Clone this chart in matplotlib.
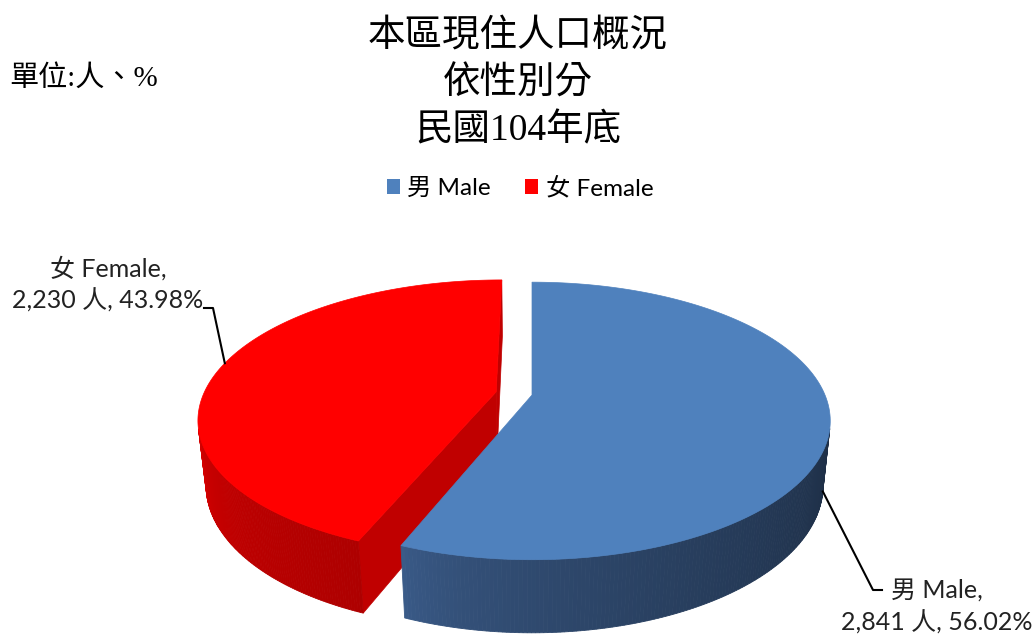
import numpy as np
import matplotlib
matplotlib.use('Agg')
import matplotlib.pyplot as plt
from matplotlib.patches import Polygon, Patch
from matplotlib.colors import to_rgb

plt.rcParams['font.family'] = ['Lato', 'Noto Sans CJK TC', 'DejaVu Sans']

# data
title_lines = ['本區現住人口概況', '依性別分', '民國104年底']
unit_text = '單位:人、%'
names_zh = ['男', '女']
names_en = ['Male', 'Female']
counts = [2841, 2230]
unit_word = '人'

# styles
top_colors = ['#4F81BD', '#FF0000']
wall_light = ['#3B5C8A', '#D60000']
wall_dark = ['#1E2F47', '#AE0000']
cut_colors = ['#243A5C', '#C00000']
explode = [0.0, 0.125]

# 3d view in pixel space
CX, CY = 532, 395
SCALE = 293
DIST = 4.76
PHI = np.radians(27.2)
HEIGHT = 0.25
CAM = np.array([0.0, DIST * np.sin(PHI), DIST * np.cos(PHI)])


def proj(X, Y, Z):
    depth = DIST - Y * np.sin(PHI) - Z * np.cos(PHI)
    f = SCALE * DIST
    xs = X * f / depth
    ys = (Y * np.cos(PHI) - Z * np.sin(PHI)) * f / depth
    return CX + xs, CY - ys


def mix(c1, c2, k):
    a, b = np.array(to_rgb(c1)), np.array(to_rgb(c2))
    return tuple(a + (b - a) * k)


fig = plt.figure(figsize=(10.36, 6.37), dpi=100)
ax = fig.add_axes([0, 0, 1, 1])
ax.set_xlim(0, 1036)
ax.set_ylim(637, 0)
ax.axis('off')

total = sum(counts)
fracs = [c / total for c in counts]
starts = np.concatenate([[0], np.cumsum(fracs)[:-1]]) * 360
ends = np.cumsum(fracs) * 360

slices = []
for i in range(len(counts)):
    t0, t1 = np.radians(starts[i]), np.radians(ends[i])
    mid = (t0 + t1) / 2
    ox, oz = explode[i] * np.sin(mid), -explode[i] * np.cos(mid)
    slices.append((t0, t1, ox, oz))


def pt(i, t, r=1.0, Y=0.0):
    t0, t1, ox, oz = slices[i]
    return proj(ox + r * np.sin(t), Y, oz - r * np.cos(t))


def draw_slice(i):
    t0, t1, ox, oz = slices[i]
    # flat cut faces
    for t, sgn in [(t0, -1), (t1, 1)]:
        n = sgn * np.array([np.cos(t), 0, np.sin(t)])
        p = np.array([ox, 0, oz])
        if n @ (CAM - p) > 1e-6:
            quad = [pt(i, t, 0), pt(i, t, 1), pt(i, t, 1, -HEIGHT), pt(i, t, 0, -HEIGHT)]
            ax.add_patch(Polygon(quad, closed=True, fc=cut_colors[i], ec=cut_colors[i], lw=0.5))
    # outer wall
    ts = np.linspace(t0, t1, 300)
    vis = []
    for t in ts:
        n = np.array([np.sin(t), 0, -np.cos(t)])
        p = np.array([ox + np.sin(t), 0, oz - np.cos(t)])
        vis.append(n @ (CAM - p) > 0)
    ts_v = ts[np.array(vis)]
    if len(ts_v) > 1:
        lo, hi = ts_v.min(), ts_v.max()
        for a, b in zip(ts_v[:-1], ts_v[1:]):
            k = ((hi - (a + b) / 2) / (hi - lo)) ** 0.6
            col = mix(wall_light[i], wall_dark[i], k)
            quad = [pt(i, a), pt(i, b), pt(i, b, 1, -HEIGHT), pt(i, a, 1, -HEIGHT)]
            ax.add_patch(Polygon(quad, closed=True, fc=col, ec=col, lw=0.6))
    # top face
    arc = [pt(i, t) for t in np.linspace(t0, t1, 200)]
    ax.add_patch(Polygon([pt(i, t0, 0)] + arc, closed=True, fc=top_colors[i],
                         ec=top_colors[i], lw=0.5))


for i in [1, 0]:
    draw_slice(i)

# titles
for line, y in zip(title_lines, [36, 84, 131]):
    ax.text(518, y, line, ha='center', va='center', fontsize=27,
            family=['Liberation Serif', 'Noto Sans CJK TC'])
ax.text(9, 78, unit_text, ha='left', va='center', fontsize=21,
        family=['Liberation Serif', 'Noto Sans CJK TC'])

# legend
handles = [Patch(facecolor=top_colors[i], label=f'{names_zh[i]} {names_en[i]}')
           for i in range(len(counts))]
ax.legend(handles=handles, loc='center', bbox_to_anchor=(520 / 1036, 1 - 188 / 637),
          ncol=2, frameon=False, fontsize=17.5, handlelength=0.55, handleheight=0.55,
          handletextpad=0.3, columnspacing=1.4)

# data labels with leader lines
label_pos = [(937, 607), (108, 284)]
anchor_t = [np.radians(104), np.radians(283)]
anchor_y = [-0.95 * HEIGHT, 0.0]
elbows = [[(873, 590), (882, 590)], [(213, 308), (204, 308)]]
for i in range(len(counts)):
    txt = f'{names_zh[i]} {names_en[i]},\n{counts[i]:,} {unit_word}, {fracs[i] * 100:.2f}%'
    ax.text(*label_pos[i], txt, ha='center', va='center', fontsize=18,
            linespacing=1.4, color='#222222')
    ax_, ay_ = pt(i, anchor_t[i], 1, anchor_y[i])
    xs = [ax_] + [p[0] for p in elbows[i]]
    ys = [ay_] + [p[1] for p in elbows[i]]
    ax.plot(xs, ys, color='black', lw=1.5)

fig.savefig('out.png', dpi=100)
